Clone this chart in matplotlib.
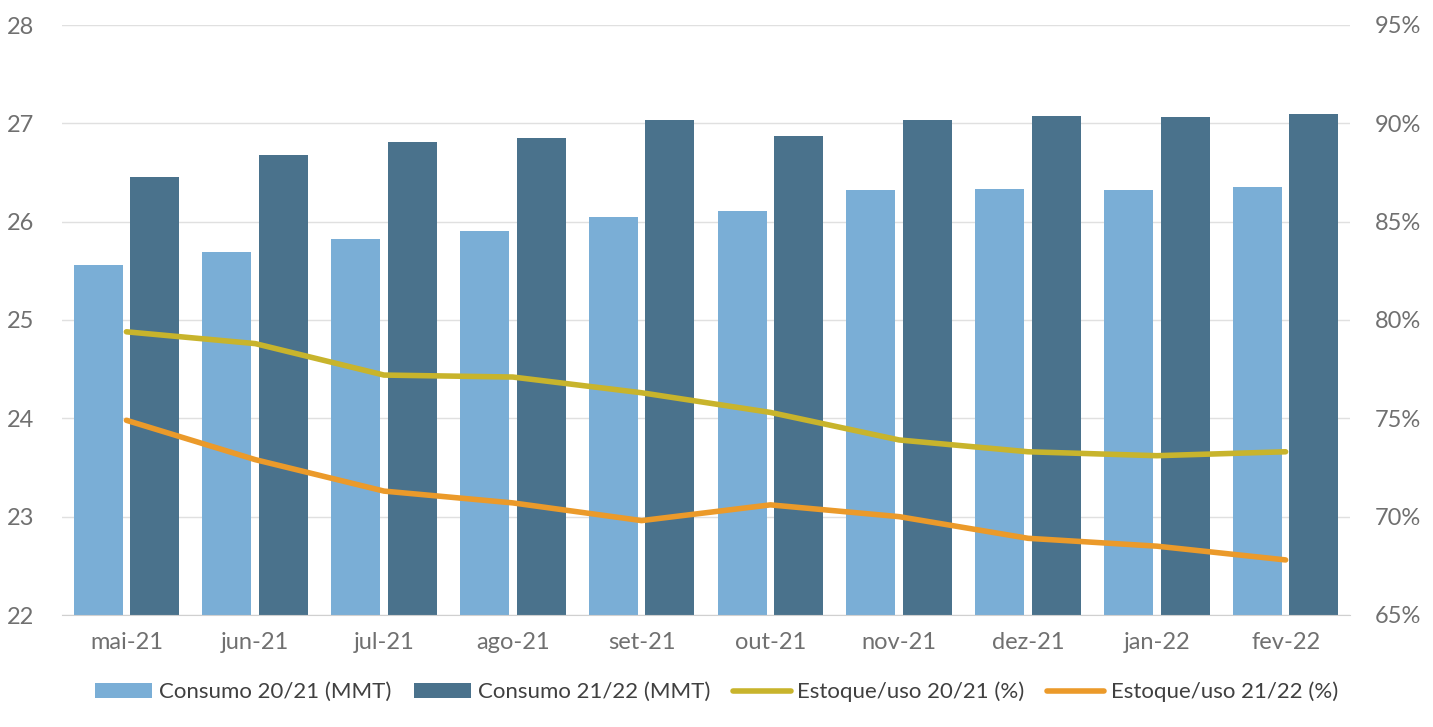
import matplotlib
matplotlib.use("Agg")
import matplotlib.pyplot as plt
import numpy as np

months = ["mai-21","jun-21","jul-21","ago-21","set-21","out-21","nov-21","dez-21","jan-22","fev-22"]
cons2021 = [25.56,25.69,25.82,25.91,26.05,26.11,26.32,26.33,26.32,26.35]
cons2122 = [26.45,26.68,26.81,26.85,27.03,26.87,27.03,27.07,27.06,27.09]
eu2021 = [79.4,78.8,77.2,77.1,76.3,75.3,73.9,73.3,73.1,73.3]
eu2122 = [74.9,72.9,71.3,70.7,69.8,70.6,70.0,68.9,68.5,67.8]

plt.rcParams['font.family'] = ['Lato', 'DejaVu Sans']
grey = '#707070'
fig = plt.figure(figsize=(14.33,7.27), dpi=100)
ax = fig.add_axes([62/1433, 1-615/727, (1350-62)/1433, 590/727])
x = np.arange(len(months))
w = 0.38
ax.bar(x-0.22, cons2021, w, color='#7aaed6', label='Consumo 20/21 (MMT)', zorder=2)
ax.bar(x+0.22, cons2122, w, color='#4a728c', label='Consumo 21/22 (MMT)', zorder=2)
ax.set_ylim(22,28)
ax.set_xlim(-0.5, len(months)-0.5)
ax.set_yticks(range(22,29))
ax.set_xticks(x, months)
ax.grid(axis='y', color='#e0e0e0', lw=1, zorder=0)
ax.tick_params(colors=grey, labelsize=17, length=0)
ax.tick_params(axis='y', pad=20)
ax.tick_params(axis='x', pad=12)
for s in ['top','right','left']:
    ax.spines[s].set_visible(False)
ax.spines['bottom'].set_color('#d0d0d0')
ax2 = ax.twinx()
ax2.plot(x, eu2021, color='#c8b42c', lw=4, label='Estoque/uso 20/21 (%)', solid_joinstyle='round', solid_capstyle='round')
ax2.plot(x, eu2122, color='#eb9a2a', lw=4, label='Estoque/uso 21/22 (%)', solid_joinstyle='round', solid_capstyle='round')
ax2.set_ylim(65,95)
ax2.set_yticks(range(65,96,5))
ax2.set_yticklabels([f"{v}%" for v in range(65,96,5)])
ax2.tick_params(colors=grey, labelsize=17, length=0, pad=18)
for s in ['top','right','left','bottom']:
    ax2.spines[s].set_visible(False)
h1,l1 = ax.get_legend_handles_labels()
h2,l2 = ax2.get_legend_handles_labels()
fig.legend(h1+h2, l1+l2, loc='center', bbox_to_anchor=(0.5, 1-692/727), ncol=4, frameon=False,
           fontsize=16, labelcolor='#404040', handlelength=2.6, columnspacing=1.0, handletextpad=0.3)
fig.savefig('out.png', dpi=100)
